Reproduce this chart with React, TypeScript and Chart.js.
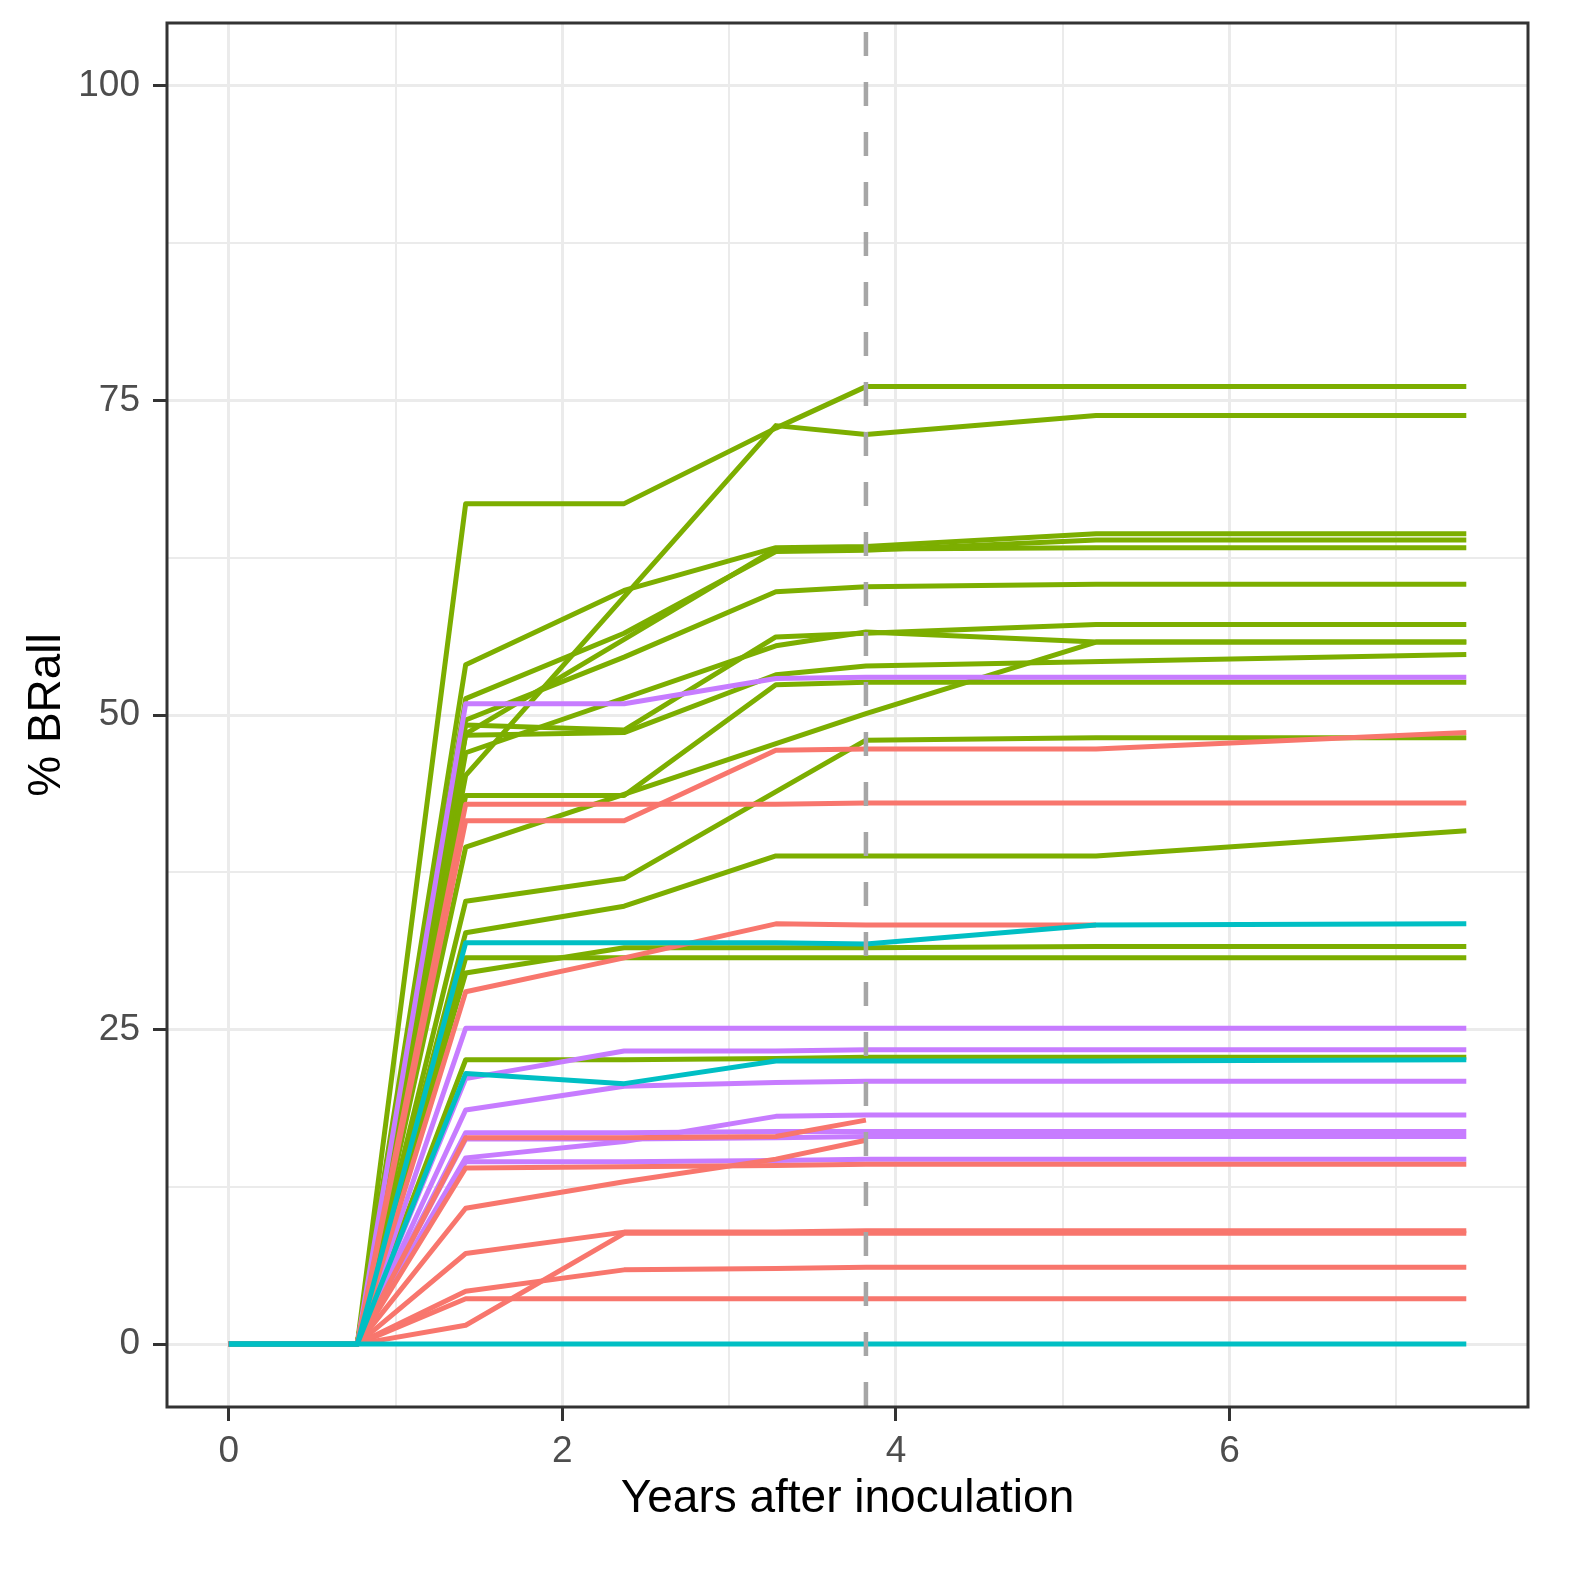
import { useEffect, useRef } from 'react';
import { Chart, registerables } from 'chart.js';

Chart.register(...registerables);

// observation times (years after inoculation), shared by every tree
const TIMES = [0, 0.77, 1.42, 2.37, 3.28, 3.82, 5.2, 7.42];
// dashed reference line
const CUTOFF = 3.82;

// % BRall per tree at each time, null = no measurement there
const redSeries = [
  [0, 0, 41.6, 41.6, 47.2, 47.3, 47.3, 48.6],
  [0, 0, 42.9, 42.9, 42.9, 43.0, 43.0, 43.0],
  [0, 0, 28.0, 30.7, 33.4, 33.3, 33.3, null],
  [0, 0, 16.4, 16.4, 16.5, 17.8, null, null],
  [0, 0, 10.8, 12.9, 14.7, 16.2, null, null],
  [0, 0, 14.0, 14.1, 14.2, 14.3, 14.3, 14.3],
  [0, 0, 7.2, 8.9, 8.9, 9.0, 9.0, 9.0],
  [0, 0, 1.5, 8.8, 8.8, 8.8, 8.8, 8.8],
  [0, 0, 4.2, 5.9, 6.0, 6.1, 6.1, 6.1],
  [0, 0, 3.6, 3.6, 3.6, 3.6, 3.6, 3.6],
];

const greenSeries = [
  [0, 0, 66.8, 66.8, 72.8, 76.1, 76.1, 76.1],
  [0, 0, 45.2, null, 73.0, 72.3, 73.8, 73.8],
  [0, 0, 54.0, 59.9, 63.3, 63.4, 64.4, 64.4],
  [0, 0, 51.3, 56.5, 63.0, 63.1, 63.9, 63.9],
  [0, 0, 48.5, null, 63.2, 63.2, 63.3, 63.3],
  [0, 0, 49.6, 54.6, 59.8, 60.2, 60.4, 60.4],
  [0, 0, 49.2, 48.8, 56.2, 56.5, 57.2, 57.2],
  [0, 0, 47.0, null, 55.5, 56.6, 55.8, 55.8],
  [0, 0, 39.5, null, null, 50.1, 55.8, 55.8],
  [0, 0, 48.4, 48.6, 53.2, 53.9, null, 54.8],
  [0, 0, 43.6, 43.6, 52.4, 52.6, 52.6, 52.6],
  [0, 0, 35.2, 37.0, null, 48.0, 48.2, 48.2],
  [0, 0, 32.7, 34.8, 38.8, 38.8, 38.8, 40.8],
  [0, 0, 30.7, 30.7, 30.7, 30.7, 30.7, 30.7],
  [0, 0, 29.5, 31.5, 31.5, 31.5, 31.6, 31.6],
  [0, 0, 22.6, 22.6, 22.7, 22.8, 22.8, 22.8],
];

const purpleSeries = [
  [0, 0, 50.9, 50.9, 52.9, 53.0, 53.0, 53.0],
  [0, 0, 25.1, 25.1, 25.1, 25.1, 25.1, 25.1],
  [0, 0, 21.1, 23.3, 23.3, 23.4, 23.4, 23.4],
  [0, 0, 18.6, 20.5, 20.8, 20.9, 20.9, 20.9],
  [0, 0, 14.8, 16.1, 18.1, 18.2, 18.2, 18.2],
  [0, 0, 16.8, 16.8, 16.9, 16.9, 16.9, 16.9],
  [0, 0, 16.3, 16.3, 16.4, 16.5, 16.5, 16.5],
  [0, 0, 14.5, 14.5, 14.6, 14.7, 14.7, 14.7],
];

const cyanSeries = [
  [0, 0, 31.9, 31.9, 31.9, 31.8, 33.3, 33.4],
  [0, 0, 21.5, 20.7, 22.5, 22.5, 22.5, 22.6],
  [0, 0, 0, 0, 0, 0, 0, 0],
];

const X_TICKS = [0, 1, 2, 3, 4, 5, 6, 7];
const Y_TICKS = [0, 12.5, 25, 37.5, 50, 62.5, 75, 87.5, 100];

const FONT = 'Liberation Sans, Arial, sans-serif';

const toPoints = (vals: (number | null)[]) => TIMES.map((t, i) => ({ x: t, y: vals[i] }));

// ggplot's theme_bw draws a box round the whole panel
const panelBorder = {
  id: 'panelBorder',
  afterDraw(chart: any) {
    const { ctx, chartArea: a } = chart;
    ctx.save();
    ctx.strokeStyle = '#333333';
    ctx.lineWidth = 3;
    ctx.strokeRect(a.left, a.top, a.right - a.left, a.bottom - a.top);
    ctx.restore();
  },
};

export default function App() {
  const canvasRef = useRef<HTMLCanvasElement | null>(null);

  useEffect(() => {
    const ctx = canvasRef.current?.getContext('2d');
    if (!ctx) return;

    const groups = [
      { color: '#F8766D', rows: redSeries, order: 2 },
      { color: '#7CAE00', rows: greenSeries, order: 4 },
      { color: '#C77CFF', rows: purpleSeries, order: 3 },
      { color: '#00BFC4', rows: cyanSeries, order: 1 },
    ];

    const datasets: any[] = [];
    groups.forEach((g) => {
      g.rows.forEach((row) => {
        datasets.push({
          data: toPoints(row),
          borderColor: g.color,
          borderWidth: 5,
          borderJoinStyle: 'round',
          pointRadius: 0,
          spanGaps: true,
          tension: 0,
          order: g.order,
        });
      });
    });
    datasets.push({
      data: [{ x: CUTOFF, y: 105 }, { x: CUTOFF, y: -5 }],
      borderColor: '#A6A6A6',
      borderWidth: 4.5,
      borderDash: [24, 26],
      borderDashOffset: 41,
      pointRadius: 0,
      order: 0,
    });

    const isMajorX = (v: number) => v % 2 === 0;
    const isMajorY = (v: number) => v % 25 === 0;

    const chart = new Chart(ctx, {
      type: 'line',
      data: { datasets },
      options: {
        responsive: false,
        animation: false,
        layout: { padding: { top: 23, right: 47, left: 0, bottom: 0 } },
        plugins: { legend: { display: false }, tooltip: { enabled: false } },
        scales: {
          x: {
            type: 'linear',
            min: -0.371,
            max: 7.79,
            afterBuildTicks: (s: any) => { s.ticks = X_TICKS.map((v) => ({ value: v })); },
            afterFit: (s: any) => {
              s.height = 177;
              s.paddingLeft = 0;
              s.paddingRight = 0;
            },
            border: { display: false },
            grid: {
              color: '#EBEBEB',
              lineWidth: (c: any) => (isMajorX(c.tick.value) ? 3 : 2),
              tickColor: (c: any) => (isMajorX(c.tick.value) ? '#333333' : 'rgba(0,0,0,0)'),
              tickLength: 14,
              tickWidth: 3,
            },
            ticks: {
              autoSkip: false,
              maxRotation: 0,
              padding: 9,
              color: '#4D4D4D',
              font: { family: FONT, size: 37 },
              callback: (v: any) => (isMajorX(v) ? String(v) : ''),
            },
            title: {
              display: true,
              text: 'Years after inoculation',
              color: '#000000',
              font: { family: FONT, size: 46 },
              padding: { top: 0, bottom: 57 },
            },
          },
          y: {
            type: 'linear',
            min: -5,
            max: 105,
            afterBuildTicks: (s: any) => { s.ticks = Y_TICKS.map((v) => ({ value: v })); },
            afterFit: (s: any) => {
              s.width = 167;
              s.paddingTop = 0;
              s.paddingBottom = 0;
            },
            border: { display: false },
            grid: {
              color: '#EBEBEB',
              lineWidth: (c: any) => (isMajorY(c.tick.value) ? 3 : 2),
              tickColor: (c: any) => (isMajorY(c.tick.value) ? '#333333' : 'rgba(0,0,0,0)'),
              tickLength: 14,
              tickWidth: 3,
            },
            ticks: {
              autoSkip: false,
              padding: 13,
              color: '#4D4D4D',
              font: { family: FONT, size: 37 },
              callback: (v: any) => (isMajorY(v) ? String(v) : ''),
            },
            title: {
              display: true,
              text: '% BRall',
              color: '#000000',
              font: { family: FONT, size: 46 },
              padding: { top: 20, bottom: 0 },
            },
          },
        },
      },
      plugins: [panelBorder],
    } as any);

    return () => {
      chart.destroy();
    };
  }, []);

  return (
    <div style={{ position: 'absolute', left: 0, top: 0, width: 1575, height: 1584, background: '#ffffff' }}>
      <canvas ref={canvasRef} width={1575} height={1584} style={{ display: 'block' }} />
    </div>
  );
}
